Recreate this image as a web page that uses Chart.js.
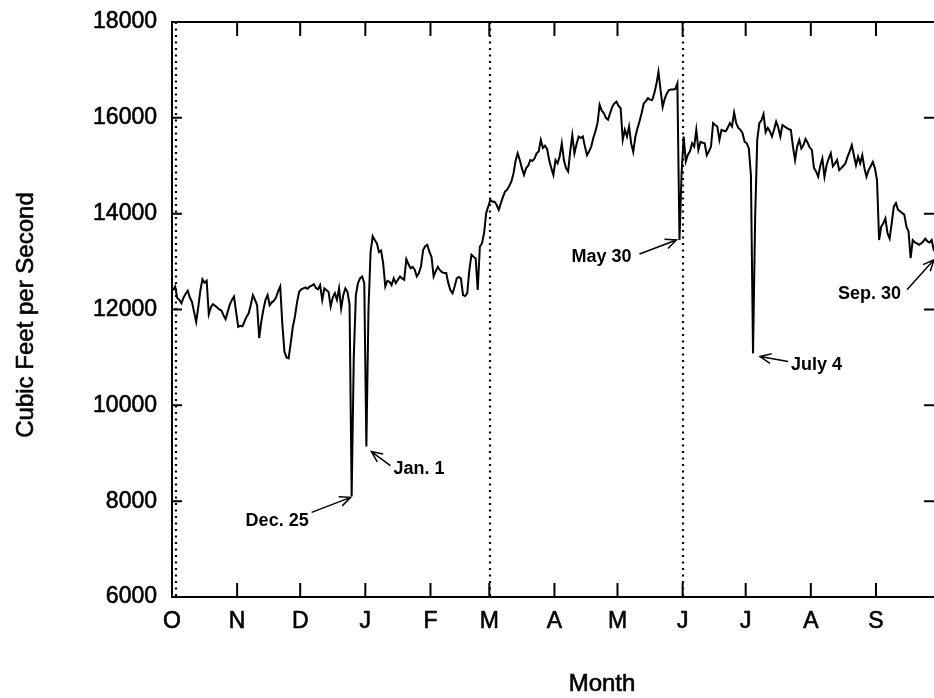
<!DOCTYPE html>
<html>
<head>
<meta charset="utf-8">
<script src="https://cdn.jsdelivr.net/npm/chart.js@4.4.0/dist/chart.umd.min.js"></script>
<style>
  html, body { margin: 0; padding: 0; background: #fff; overflow: hidden; }
  #wrap { width: 960px; height: 698px; }
</style>
</head>
<body>
<div id="wrap"><canvas id="chart" width="960" height="698"></canvas></div>
<script>
// daily flow, cubic feet per second, Oct 1 .. Sep 30 (one array per month)
const octFlow = [12400,12480,12240,12200,12130,12250,12330,12390,12250,12160,
                 11950,11740,12050,12400,12630,12560,12600,11900,12050,12110,
                 12080,12040,12000,11980,11880,11800,11950,12100,12200,12270,11950];
const novFlow = [11640,11660,11650,11750,11850,11920,12100,12300,12200,12090,
                 11400,11750,12000,12200,12300,12090,12150,12180,12250,12380,
                 12480,11700,11120,11000,10980,11300,11640,11850,12150,12370];
const decFlow = [12420,12440,12460,12430,12480,12500,12530,12450,12420,12510,
                 12200,12440,12400,12370,12060,12250,12340,12200,12440,12020,
                 12300,12440,12370,12100,8100,11000,12300,12550,12650,12690,12550];
const janFlow = [9140,12000,13200,13530,13450,13380,13200,13230,12960,12480,
                 12600,12580,12510,12650,12550,12620,12690,12650,12620,13050,
                 12950,12860,12890,12830,12690,12760,12900,13240,13320,13350,13200];
const febFlow = [13100,12690,12800,12890,12820,12780,12760,12760,12550,12400,
                 12340,12480,12650,12680,12650,12300,12280,12340,12820,13140,
                 13100,13070,12410,13310,13380,13590,14010,14150];
const marFlow = [14290,14250,14250,14180,14080,14220,14350,14460,14500,14580,
                 14670,14840,15100,15260,15120,14950,14810,14950,15000,15120,
                 15100,15150,15260,15300,15540,15370,15420,15350,15120,14950,14810];
const aprFlow = [15120,15050,15200,15470,15120,14950,14880,15300,15640,15260,
                 15450,15610,15580,15610,15400,15220,15300,15400,15580,15720,
                 15890,16270,16150,16100,16000,15960,16100,16230,16300,16340];
const mayFlow = [16250,16200,15540,15750,15610,15820,15470,15290,15600,15780,
                 15930,16100,16300,16350,16410,16380,16370,16510,16700,16960,
                 16580,16230,16400,16510,16580,16590,16590,16600,16720,13450,14840];
const junFlow = [15610,15090,15230,15300,15470,15400,15750,15330,15500,15480,
                 15470,15220,15300,15400,15890,15850,15820,15540,15750,15730,
                 15720,15800,15890,15820,16110,15890,15790,15750,15680,15500];
const julFlow = [15470,15360,14800,11080,13900,15540,15890,15950,16080,15700,
                 15790,15720,15610,15750,15920,15800,15610,15850,15820,15790,
                 15760,15750,15400,15120,15400,15540,15360,15430,15560,15480,15380];
const augFlow = [15330,14950,14880,14770,15000,15150,14770,15010,15150,15260,
                 14990,15050,15120,14910,14950,15000,15050,15190,15300,15430,
                 15220,15010,15190,15050,15220,14950,14770,14910,14990,15080,14950];
const sepFlow = [14700,13450,13730,13800,13900,13590,13480,13800,14150,14220,
                 14080,14050,14010,13980,13730,13630,13070,13450,13400,13380,
                 13350,13380,13420,13480,13420,13400,13450,13240,13200,13100];

const monthLetters = ["O","N","D","J","F","M","A","M","J","J","A","S"];
const monthStarts  = [0,31,61,92,123,151,182,212,243,273,304,335];   // day index of the 1st
const yTicks       = [6000,8000,10000,12000,14000,16000,18000];
const dividers     = [2, 151.5, 243];                                  // dotted lines (day index)

const noteLabels = ["Dec. 25","Jan. 1","May 30","July 4","Sep. 30"];
const noteDays   = [85, 92, 241, 276, 364];

const flow = [].concat(octFlow, novFlow, decFlow, janFlow, febFlow, marFlow,
                       aprFlow, mayFlow, junFlow, julFlow, augFlow, sepFlow);

// ------------------- LAYOUT OF THE NOTES (px from the data point) -------------------
const noteLayout = [
  { tip: [-1, 1],  tail: [-40, 16], text: [-43, 25], align: "right" },
  { tip: [5, 5],   tail: [24, 19],  text: [27, 22],  align: "left"  },
  { tip: [-3, 0],  tail: [-40, 14], text: [-48, 17], align: "right" },
  { tip: [7, 3],   tail: [35, 8],   text: [38, 11],  align: "left"  },
  { tip: [-4, 3],  tail: [-31, 33], text: [-37, 37], align: "right" }
];

const FONT = '"Liberation Sans", Arial, sans-serif';

function drawArrow(ctx, x1, y1, x2, y2) {
  const ang = Math.atan2(y2 - y1, x2 - x1);
  const len = 12, spread = 0.42;
  ctx.beginPath();
  ctx.moveTo(x1, y1);
  ctx.lineTo(x2, y2);
  ctx.moveTo(x2 - len * Math.cos(ang - spread), y2 - len * Math.sin(ang - spread));
  ctx.lineTo(x2, y2);
  ctx.lineTo(x2 - len * Math.cos(ang + spread), y2 - len * Math.sin(ang + spread));
  ctx.stroke();
}

// ------------------- FRAME, TICKS, NOTES -------------------
const framePlugin = {
  id: "frame",
  afterDatasetsDraw(chart) {
    const { ctx, chartArea: a, scales: { x, y } } = chart;
    ctx.save();
    ctx.strokeStyle = "#000";
    ctx.fillStyle = "#000";

    // dotted dividers
    ctx.lineWidth = 2.2;
    ctx.setLineDash([2, 4.5]);
    dividers.forEach(d => {
      const px = Math.round(x.getPixelForValue(d));
      ctx.beginPath(); ctx.moveTo(px, a.top); ctx.lineTo(px, a.bottom); ctx.stroke();
    });
    ctx.setLineDash([]);

    // box
    ctx.lineWidth = 2;
    ctx.strokeRect(a.left, a.top, a.right - a.left, a.bottom - a.top);

    // inward ticks
    monthStarts.forEach(d => {
      const px = x.getPixelForValue(d);
      ctx.beginPath();
      ctx.moveTo(px, a.top); ctx.lineTo(px, a.top + 14);
      ctx.moveTo(px, a.bottom); ctx.lineTo(px, a.bottom - 14);
      ctx.stroke();
    });
    yTicks.forEach(v => {
      const py = y.getPixelForValue(v);
      ctx.beginPath();
      ctx.moveTo(a.left, py); ctx.lineTo(a.left + 10, py);
      ctx.moveTo(a.right, py); ctx.lineTo(a.right - 15, py);
      ctx.stroke();
    });

    // notes with arrows
    ctx.lineWidth = 1.5;
    ctx.font = "bold 18px " + FONT;
    ctx.textBaseline = "middle";
    noteDays.forEach((d, i) => {
      const px = x.getPixelForValue(d + 0.5);
      const py = y.getPixelForValue(flow[d]);
      const L = noteLayout[i];
      drawArrow(ctx, px + L.tail[0], py + L.tail[1], px + L.tip[0], py + L.tip[1]);
      ctx.textAlign = L.align;
      ctx.fillText(noteLabels[i], px + L.text[0], py + L.text[1]);
    });

    // axis titles
    ctx.font = "24px " + FONT;
    ctx.lineWidth = 0.6;
    ctx.textAlign = "center";
    ctx.fillText("Month", 602, 684);
    ctx.strokeText("Month", 602, 684);
    ctx.translate(26, 315);
    ctx.rotate(-Math.PI / 2);
    ctx.fillText("Cubic Feet per Second", 0, 0);
    ctx.strokeText("Cubic Feet per Second", 0, 0);
    ctx.restore();
  }
};

const tickFont = { family: FONT, size: 23 };

new Chart(document.getElementById("chart").getContext("2d"), {
  type: "line",
  data: {
    datasets: [{
      data: flow.map((v, i) => ({ x: i + 0.5, y: v })),
      borderColor: "#000",
      borderWidth: 2,
      pointRadius: 0,
      tension: 0,
      fill: false
    }]
  },
  options: {
    responsive: false,
    animation: false,
    devicePixelRatio: 1,
    layout: { padding: { top: 22, right: 21, left: 0, bottom: 0 } },
    plugins: { legend: { display: false }, tooltip: { enabled: false } },
    scales: {
      x: {
        type: "linear",
        min: 0,
        max: 365,
        afterFit: s => { s.height = 101; s.paddingLeft = 0; s.paddingRight = 0; },
        afterBuildTicks: s => { s.ticks = monthStarts.map(v => ({ value: v })); },
        grid: { display: false, drawTicks: false },
        border: { display: false },
        ticks: {
          autoSkip: false,
          maxRotation: 0,
          padding: 11,
          color: "#000",
          textStrokeColor: "#000",
          textStrokeWidth: 0.6,
          font: tickFont,
          callback: v => monthLetters[monthStarts.indexOf(v)]
        }
      },
      y: {
        min: 6000,
        max: 18000,
        afterFit: s => { s.width = 172; s.paddingTop = 0; s.paddingBottom = 0; },
        afterBuildTicks: s => { s.ticks = yTicks.map(v => ({ value: v })); },
        grid: { display: false, drawTicks: false },
        border: { display: false },
        ticks: {
          padding: 15,
          color: "#000",
          textStrokeColor: "#000",
          textStrokeWidth: 0.6,
          font: tickFont,
          callback: v => String(v)
        }
      }
    }
  },
  plugins: [framePlugin]
});
</script>
</body>
</html>
